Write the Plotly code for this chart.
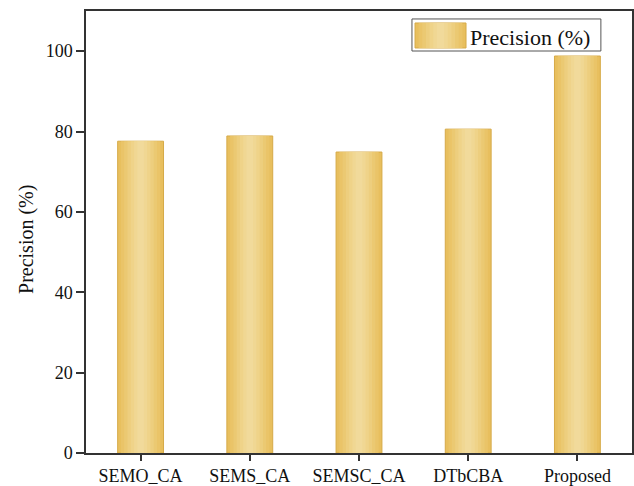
import plotly.graph_objects as go

categories = ["SEMO_CA", "SEMS_CA", "SEMSC_CA", "DTbCBA", "Proposed"]
precision = [77.6, 78.9, 74.9, 80.6, 98.8]
series_name = "Precision (%)"
y_title = "Precision (%)"
y_ticks = [0, 20, 40, 60, 80, 100]

FONT = "Liberation Serif, Times New Roman, serif"

# gradient layers (outer -> inner) to mimic the shaded bars
widths = [0.42, 0.36, 0.30, 0.24, 0.18, 0.12, 0.06]
colors = ["#E8BF5E", "#EAC468", "#EBC972", "#EDCE7E", "#EFD389", "#F0D793", "#F1DA9B"]
edge_color = "#D6AA48"

fig = go.Figure()
for i, (w, c) in enumerate(zip(widths, colors)):
    fig.add_trace(go.Bar(
        x=categories, y=precision, width=w, name=series_name,
        marker=dict(color=c, line=dict(color=edge_color if i == 0 else c, width=1 if i == 0 else 0)),
        showlegend=False, hoverinfo="skip" if i else None,
    ))

# hand-drawn legend (box, shaded swatch, label) in plot-area coordinates
shapes = [dict(type="rect", xref="paper", yref="paper", x0=0.597, x1=0.943, y0=0.9095, y1=0.982,
               line=dict(color="#555", width=1), fillcolor="white", layer="above")]
sw_x0, sw_x1, sw_y0, sw_y1 = 0.6026, 0.696, 0.9163, 0.9729
cx = (sw_x0 + sw_x1) / 2
half = (sw_x1 - sw_x0) / 2
for i, c in enumerate(colors):
    frac = widths[i] / widths[0]
    shapes.append(dict(type="rect", xref="paper", yref="paper",
                       x0=cx - half * frac, x1=cx + half * frac, y0=sw_y0, y1=sw_y1,
                       fillcolor=c, line=dict(color=edge_color if i == 0 else c, width=1 if i == 0 else 0),
                       layer="above"))

fig.update_layout(
    width=634, height=486,
    margin=dict(l=86, r=2, t=11, b=33),
    barmode="overlay",
    plot_bgcolor="white", paper_bgcolor="white",
    font=dict(family=FONT, size=18, color="#111"),
    showlegend=False,
    shapes=shapes,
    annotations=[
        dict(text=series_name, xref="paper", yref="paper", x=0.6996, y=0.941,
             xanchor="left", yanchor="middle", showarrow=False,
             font=dict(size=22, family=FONT, color="#111")),
        dict(text=y_title, xref="paper", yref="paper", x=-0.108, y=0.482,
             xanchor="center", yanchor="middle", showarrow=False, textangle=-90,
             font=dict(size=20, family=FONT, color="#111")),
    ],
)
fig.update_xaxes(
    type="category", range=[-0.5, 4.5], automargin=False,
    showline=True, linecolor="#333", linewidth=1.5, mirror=True,
    ticks="outside", ticklen=6, tickcolor="#333", tickwidth=1.5,
    showgrid=False, tickfont=dict(size=18, family=FONT),
)
fig.update_yaxes(
    range=[0, 110], tickvals=y_ticks, automargin=False,
    showline=True, linecolor="#333", linewidth=1.5, mirror=True,
    ticks="outside", ticklen=8, tickcolor="#333", tickwidth=1.5,
    showgrid=False, zeroline=False, tickfont=dict(size=18, family=FONT),
)

fig.write_html("out.html", config={"displayModeBar": False},
               post_script="document.body.style.margin='0';")
